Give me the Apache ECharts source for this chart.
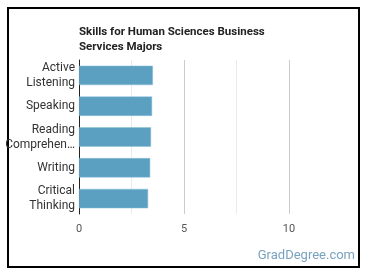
<!DOCTYPE html>
<html><head><meta charset="utf-8">
<script src="https://cdn.jsdelivr.net/npm/echarts@6/dist/echarts.min.js"></script>
<style>html,body{margin:0;padding:0;background:#fff}#c{width:370px;height:278px}</style>
</head><body><div id="c"></div>
<script>
const categories = ["Active\nListening", "Speaking", "Reading\nComprehen…", "Writing", "Critical\nThinking"];
const values = [3.52, 3.48, 3.43, 3.39, 3.29];
const xTicks = [0, 5, 10];

const chart = echarts.init(document.getElementById('c'));
chart.setOption({
  animation: false,
  textStyle: {fontFamily: 'Roboto'},
  title: {
    text: 'Skills for Human Sciences Business\nServices Majors',
    left: 74, top: 20,
    textStyle: {fontSize: 11.5, fontWeight: 'bold', color: '#222', lineHeight: 15, fontFamily: 'Roboto'}
  },
  graphic: [
    {type: 'rect', shape: {x: 8, y: 8, width: 351, height: 259}, style: {fill: 'none', stroke: '#000', lineWidth: 2}, silent: true},
    {type: 'text', right: 15, top: 249, style: {text: 'GradDegree.com', fill: '#78a3bf', font: '13px Roboto'}}
  ],
  grid: {left: 79, right: 81, top: 60, bottom: 64, containLabel: false},
  xAxis: {
    type: 'value', min: 0, max: 10, interval: 5,
    axisLine: {show: false}, axisTick: {show: false},
    axisLabel: {color: '#555', fontSize: 11, margin: 10, formatter: v => xTicks.includes(v) ? String(v) : ''},
    splitLine: {show: true, lineStyle: {color: '#ccc', width: 1}},
    minorTick: {show: false, splitNumber: 2},
    minorSplitLine: {show: true, lineStyle: {color: '#eaeaea', width: 1}}
  },
  yAxis: {
    type: 'category', data: categories, inverse: true,
    axisLine: {show: true, lineStyle: {color: '#222', width: 1}},
    axisTick: {show: false},
    axisLabel: {color: '#333', fontSize: 12, lineHeight: 15, margin: 4, align: 'right'}
  },
  series: [{
    type: 'bar', data: values, barCategoryGap: '37%',
    itemStyle: {color: '#5b9fc1', borderColor: '#8cc0d8', borderWidth: 0.5},
    silent: true
  }]
});
</script></body></html>
